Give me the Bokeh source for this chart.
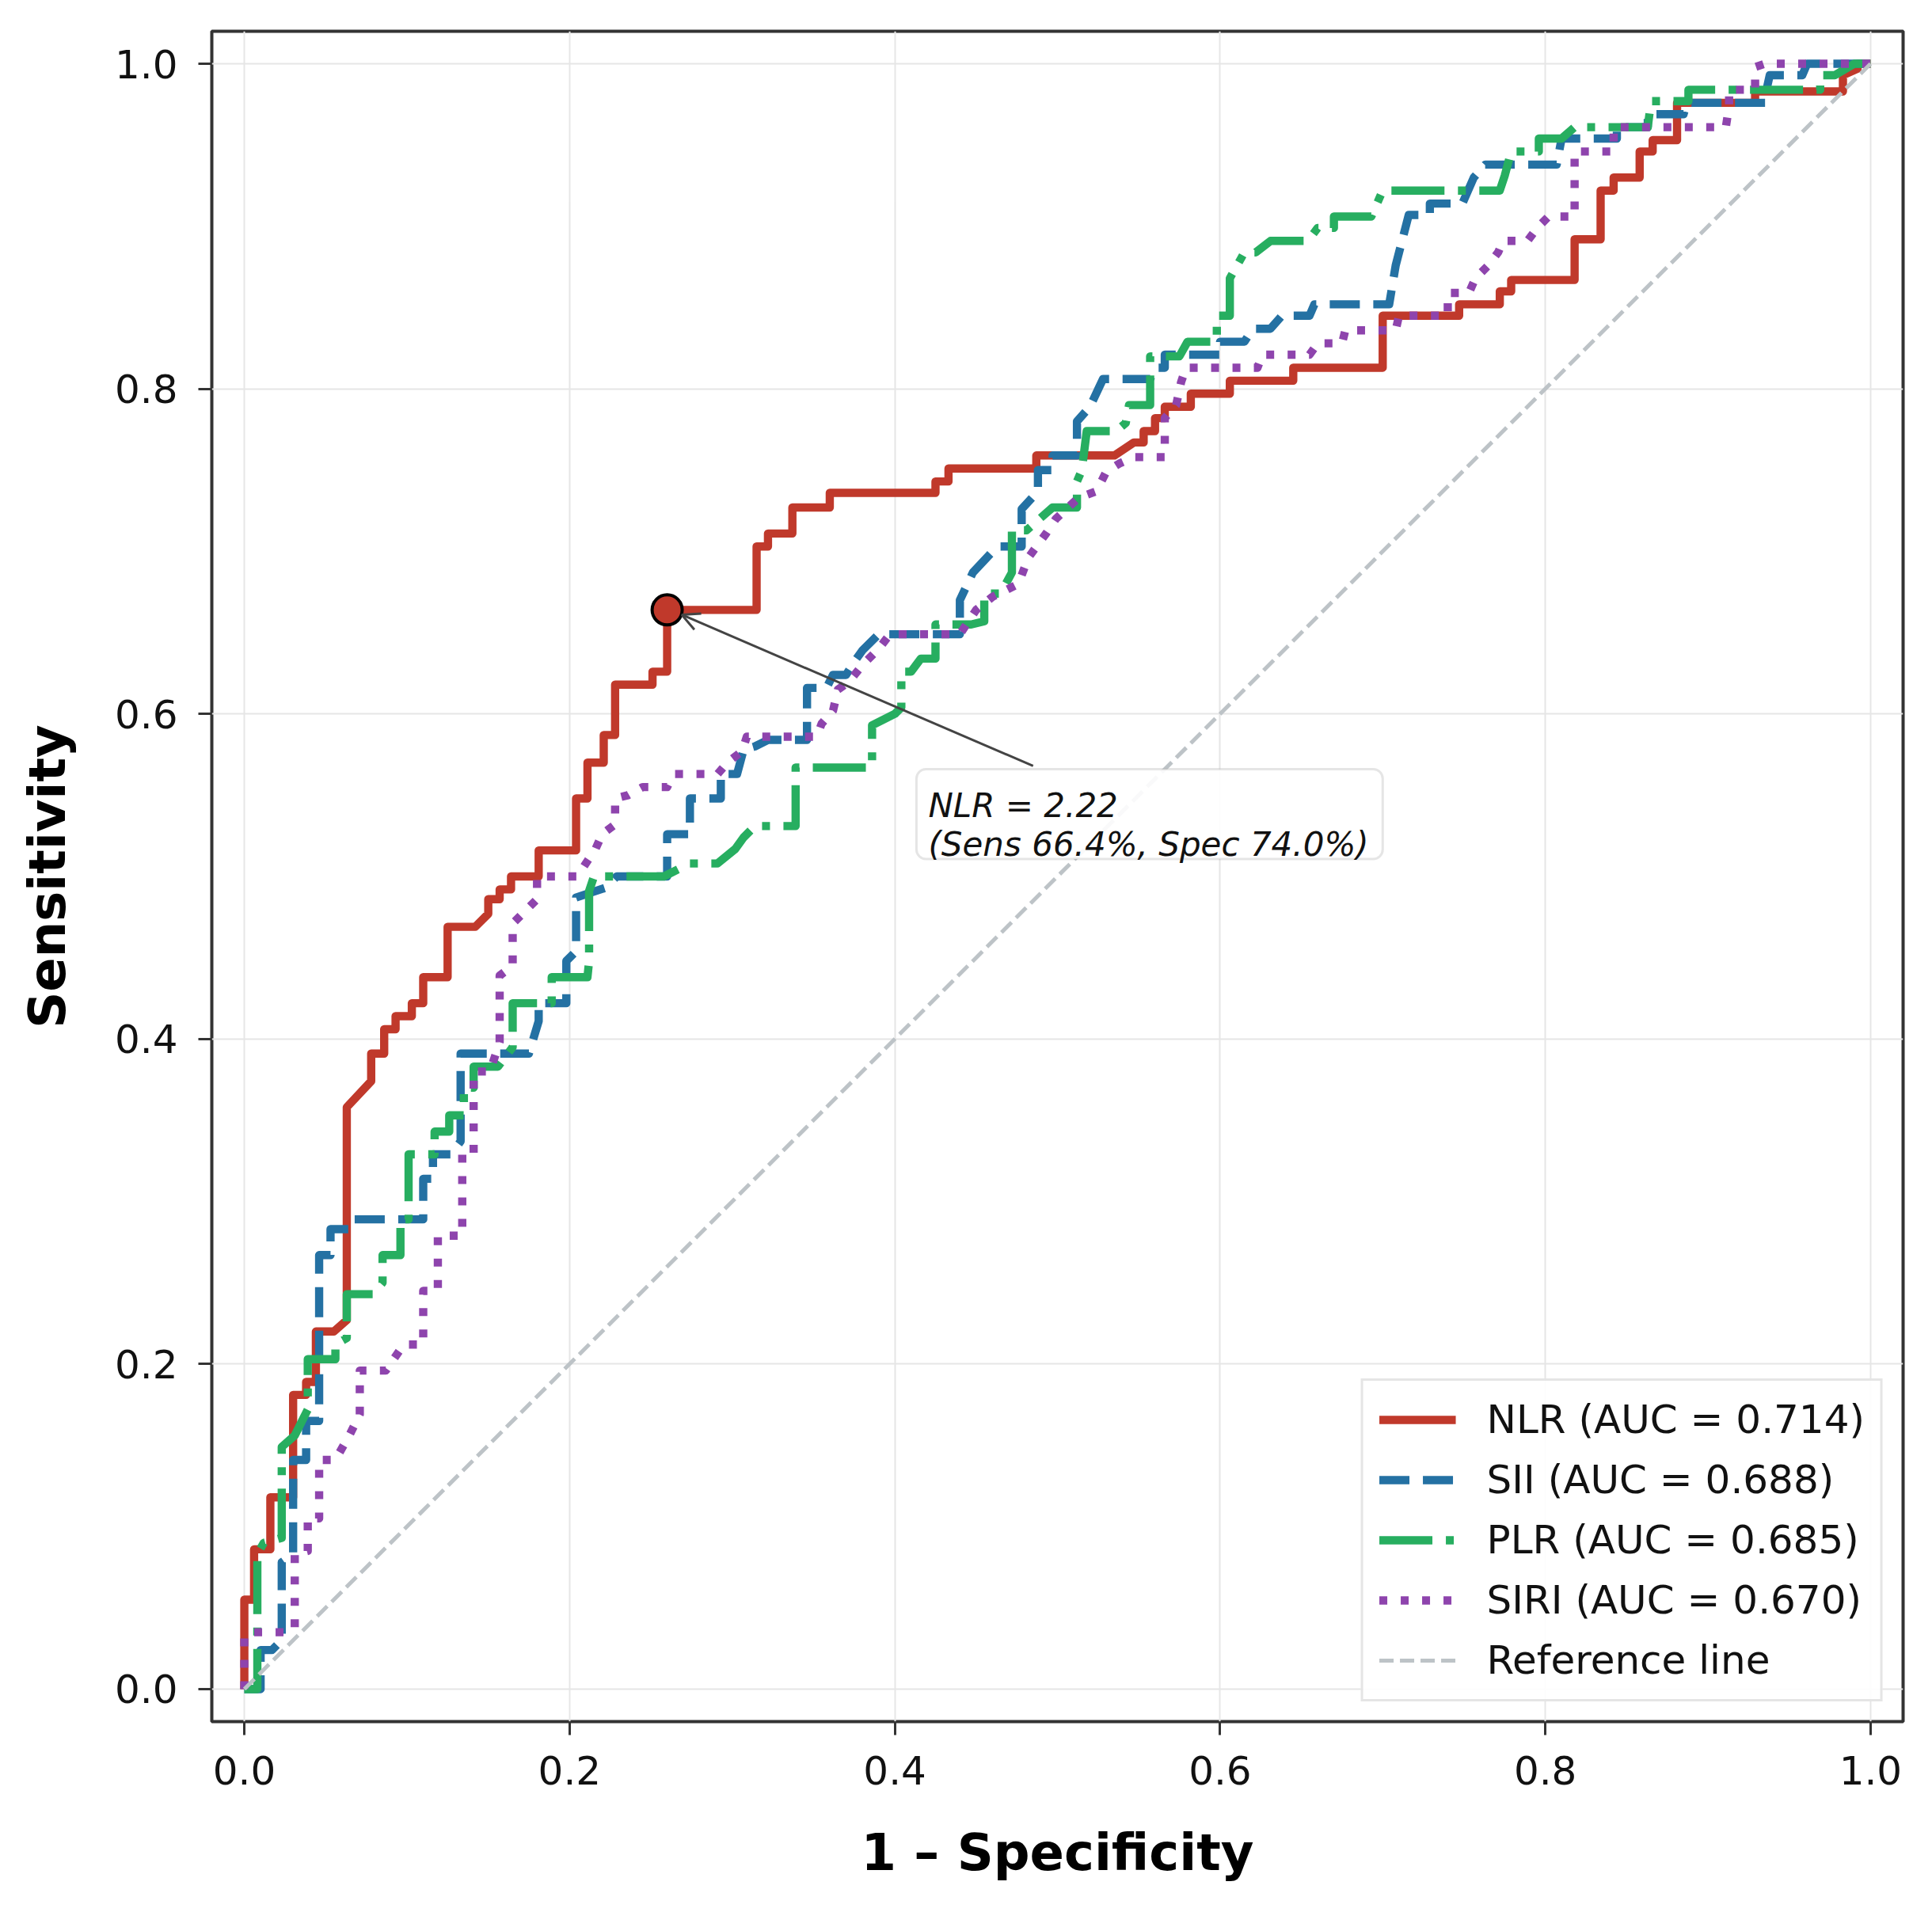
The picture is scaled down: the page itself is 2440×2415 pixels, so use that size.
from bokeh.plotting import figure
from bokeh.models import Range1d, FixedTicker, PrintfTickFormatter, Label, Arrow, OpenHead, BoxAnnotation
from bokeh.embed import file_html
from bokeh.resources import INLINE

# ---------------- data ----------------
names = ["NLR", "SII", "PLR", "SIRI"]
auc = [0.714, 0.688, 0.685, 0.670]

nlr_fpr = [0, 0, 0.006, 0.006, 0.016, 0.016, 0.030, 0.030, 0.038, 0.038, 0.044, 0.044, 0.055, 0.063,
           0.063, 0.078, 0.078, 0.086, 0.086, 0.093, 0.093, 0.103, 0.103, 0.110, 0.110, 0.125, 0.125,
           0.142, 0.150, 0.150, 0.157, 0.157, 0.164, 0.164, 0.181, 0.181, 0.204, 0.204, 0.211, 0.211,
           0.221, 0.221, 0.228, 0.228, 0.251, 0.251, 0.260, 0.260, 0.315, 0.315, 0.322, 0.322, 0.337,
           0.337, 0.360, 0.360, 0.425, 0.425, 0.433, 0.433, 0.487, 0.487, 0.535, 0.547, 0.553, 0.553,
           0.560, 0.560, 0.566, 0.566, 0.582, 0.582, 0.606, 0.606, 0.645, 0.645, 0.700, 0.700, 0.747,
           0.747, 0.772, 0.772, 0.779, 0.779, 0.818, 0.818, 0.834, 0.834, 0.842, 0.842, 0.858, 0.858,
           0.866, 0.866, 0.881, 0.881, 0.929, 0.929, 0.983, 0.983, 0.992, 0.992, 1.0]
nlr_tpr = [0, 0.055, 0.055, 0.086, 0.086, 0.118, 0.118, 0.181, 0.181, 0.189, 0.189, 0.220, 0.220, 0.227,
           0.358, 0.374, 0.391, 0.391, 0.406, 0.406, 0.414, 0.414, 0.422, 0.422, 0.438, 0.438, 0.469,
           0.469, 0.477, 0.486, 0.486, 0.492, 0.492, 0.500, 0.500, 0.516, 0.516, 0.548, 0.548, 0.570,
           0.570, 0.587, 0.587, 0.618, 0.618, 0.626, 0.626, 0.664, 0.664, 0.703, 0.703, 0.711, 0.711,
           0.727, 0.727, 0.736, 0.736, 0.743, 0.743, 0.751, 0.751, 0.759, 0.759, 0.767, 0.767, 0.774,
           0.774, 0.782, 0.782, 0.789, 0.789, 0.797, 0.797, 0.805, 0.805, 0.813, 0.813, 0.845, 0.845,
           0.852, 0.852, 0.860, 0.860, 0.867, 0.867, 0.892, 0.892, 0.922, 0.922, 0.930, 0.930, 0.946,
           0.946, 0.953, 0.953, 0.976, 0.976, 0.983, 0.983, 0.993, 0.997, 1.0, 1.0]

sii_fpr = [0, 0.010, 0.010, 0.017, 0.023, 0.023, 0.030, 0.030, 0.038, 0.038, 0.046, 0.046, 0.053, 0.053,
           0.064, 0.066, 0.110, 0.110, 0.116, 0.116, 0.127, 0.133, 0.133, 0.175, 0.181, 0.181, 0.198,
           0.198, 0.204, 0.204, 0.222, 0.229, 0.260, 0.260, 0.274, 0.274, 0.293, 0.293, 0.303, 0.307,
           0.314, 0.322, 0.346, 0.346, 0.358, 0.362, 0.370, 0.375, 0.380, 0.390, 0.440, 0.440, 0.448,
           0.463, 0.478, 0.478, 0.488, 0.488, 0.497, 0.497, 0.512, 0.512, 0.520, 0.528, 0.557, 0.560,
           0.566, 0.566, 0.600, 0.600, 0.615, 0.620, 0.631, 0.638, 0.655, 0.658, 0.704, 0.708, 0.716,
           0.729, 0.729, 0.749, 0.756, 0.763, 0.807, 0.810, 0.844, 0.844, 0.863, 0.863, 0.885, 0.887,
           0.936, 0.936, 0.938, 0.958, 0.961, 1.0]
sii_tpr = [0, 0.0, 0.024, 0.024, 0.030, 0.078, 0.083, 0.141, 0.141, 0.165, 0.165, 0.267, 0.267, 0.283,
           0.283, 0.289, 0.289, 0.314, 0.314, 0.329, 0.329, 0.337, 0.391, 0.391, 0.411, 0.422, 0.422,
           0.448, 0.454, 0.487, 0.493, 0.500, 0.500, 0.526, 0.526, 0.548, 0.548, 0.563, 0.563, 0.578,
           0.580, 0.584, 0.584, 0.616, 0.616, 0.624, 0.624, 0.632, 0.639, 0.649, 0.649, 0.670, 0.687,
           0.703, 0.703, 0.726, 0.737, 0.750, 0.750, 0.759, 0.759, 0.780, 0.789, 0.806, 0.806, 0.813,
           0.813, 0.821, 0.821, 0.829, 0.829, 0.837, 0.837, 0.845, 0.845, 0.852, 0.852, 0.876, 0.907,
           0.907, 0.914, 0.914, 0.930, 0.938, 0.938, 0.954, 0.954, 0.961, 0.961, 0.969, 0.969, 0.976,
           0.976, 0.984, 0.993, 0.993, 1.0, 1.0]

plr_fpr = [0, 0.008, 0.008, 0.012, 0.023, 0.023, 0.031, 0.039, 0.039, 0.056, 0.056, 0.063, 0.063, 0.079,
           0.085, 0.085, 0.096, 0.096, 0.101, 0.101, 0.117, 0.117, 0.126, 0.126, 0.135, 0.135, 0.141,
           0.141, 0.156, 0.165, 0.165, 0.189, 0.189, 0.211, 0.212, 0.212, 0.215, 0.258, 0.274, 0.291,
           0.302, 0.307, 0.314, 0.339, 0.339, 0.386, 0.386, 0.400, 0.404, 0.404, 0.410, 0.416, 0.425,
           0.425, 0.447, 0.455, 0.455, 0.465, 0.472, 0.472, 0.481, 0.497, 0.512, 0.512, 0.515, 0.518,
           0.536, 0.542, 0.544, 0.557, 0.557, 0.575, 0.580, 0.598, 0.598, 0.606, 0.606, 0.615, 0.622,
           0.631, 0.654, 0.660, 0.670, 0.670, 0.693, 0.700, 0.772, 0.775, 0.779, 0.796, 0.796, 0.810,
           0.818, 0.863, 0.865, 0.888, 0.888, 0.969, 0.969, 0.978, 0.990, 1.0]
plr_tpr = [0, 0.0, 0.083, 0.090, 0.093, 0.149, 0.156, 0.172, 0.203, 0.203, 0.212, 0.216, 0.243, 0.243,
           0.250, 0.267, 0.267, 0.289, 0.289, 0.329, 0.329, 0.343, 0.343, 0.353, 0.353, 0.370, 0.370,
           0.383, 0.383, 0.395, 0.422, 0.422, 0.438, 0.438, 0.448, 0.491, 0.500, 0.500, 0.508, 0.508,
           0.517, 0.524, 0.531, 0.531, 0.567, 0.567, 0.593, 0.600, 0.604, 0.626, 0.626, 0.634, 0.634,
           0.655, 0.655, 0.657, 0.674, 0.674, 0.687, 0.713, 0.713, 0.727, 0.727, 0.743, 0.750, 0.774,
           0.774, 0.779, 0.790, 0.790, 0.820, 0.820, 0.829, 0.829, 0.845, 0.845, 0.868, 0.884, 0.884,
           0.891, 0.891, 0.899, 0.899, 0.906, 0.906, 0.922, 0.922, 0.931, 0.946, 0.946, 0.954, 0.954,
           0.961, 0.961, 0.977, 0.977, 0.984, 0.984, 0.993, 0.993, 1.0, 1.0]

siri_fpr = [0, 0, 0.005, 0.028, 0.031, 0.031, 0.039, 0.039, 0.046, 0.046, 0.056, 0.065, 0.071, 0.071,
            0.087, 0.098, 0.110, 0.110, 0.119, 0.119, 0.134, 0.134, 0.141, 0.141, 0.151, 0.157, 0.157,
            0.165, 0.165, 0.172, 0.180, 0.180, 0.205, 0.210, 0.216, 0.220, 0.228, 0.228, 0.236, 0.245,
            0.260, 0.264, 0.291, 0.297, 0.306, 0.309, 0.352, 0.355, 0.362, 0.365, 0.372, 0.380, 0.390,
            0.397, 0.440, 0.450, 0.460, 0.476, 0.482, 0.493, 0.499, 0.513, 0.524, 0.530, 0.538, 0.547,
            0.566, 0.566, 0.573, 0.576, 0.579, 0.623, 0.626, 0.655, 0.660, 0.675, 0.677, 0.708, 0.710,
            0.740, 0.740, 0.753, 0.757, 0.765, 0.771, 0.774, 0.789, 0.795, 0.802, 0.818, 0.818, 0.842,
            0.842, 0.911, 0.913, 0.913, 0.929, 0.929, 0.935, 1.0]
siri_tpr = [0, 0.033, 0.035, 0.035, 0.038, 0.083, 0.085, 0.105, 0.105, 0.141, 0.141, 0.157, 0.169, 0.196,
            0.196, 0.212, 0.212, 0.245, 0.245, 0.279, 0.279, 0.330, 0.330, 0.380, 0.380, 0.398, 0.439,
            0.445, 0.471, 0.478, 0.486, 0.500, 0.500, 0.508, 0.517, 0.526, 0.532, 0.548, 0.550, 0.555,
            0.555, 0.563, 0.563, 0.570, 0.577, 0.586, 0.586, 0.594, 0.602, 0.615, 0.620, 0.630, 0.640,
            0.649, 0.649, 0.664, 0.672, 0.680, 0.696, 0.711, 0.720, 0.733, 0.737, 0.749, 0.754, 0.758,
            0.758, 0.782, 0.790, 0.804, 0.813, 0.813, 0.821, 0.821, 0.828, 0.828, 0.836, 0.836, 0.845,
            0.845, 0.859, 0.859, 0.868, 0.876, 0.884, 0.891, 0.891, 0.899, 0.906, 0.906, 0.946, 0.946,
            0.961, 0.961, 0.974, 0.984, 0.984, 0.998, 1.0, 1.0]

ref_x = [0, 1]
ref_y = [0, 1]

# optimal cut-off for NLR
cutoff_value = 2.22
cutoff_fpr = 0.260
cutoff_tpr = 0.664
cutoff_sens = 66.4
cutoff_spec = 74.0

ticks = [0.0, 0.2, 0.4, 0.6, 0.8, 1.0]

# ---------------- styling ----------------
colors = ["#c0392b", "#2471a3", "#27ae60", "#8e44ad"]
dashes = ["solid", "38 17", "67 17 10 17", "10 17"]
FONT = "DejaVu Sans"

p = figure(frame_width=2136, frame_height=2135,
           x_range=Range1d(-0.02, 1.02), y_range=Range1d(-0.02, 1.02),
           output_backend="svg", toolbar_location=None,
           min_border_left=267, min_border_right=21, min_border_top=39, min_border_bottom=225)

p.background_fill_color = "white"
p.border_fill_color = "white"
p.outline_line_color = "#333333"
p.outline_line_width = 4

p.grid.grid_line_color = "#e6e6e6"
p.grid.grid_line_width = 2
for ax in (p.xaxis, p.yaxis):
    ax.ticker = FixedTicker(ticks=ticks)
    ax.formatter = PrintfTickFormatter(format="%.1f")
p.xgrid.ticker = FixedTicker(ticks=ticks)
p.ygrid.ticker = FixedTicker(ticks=ticks)

p.axis.axis_line_color = None
p.axis.major_tick_line_color = "#333333"
p.axis.major_tick_line_width = 3
p.axis.major_tick_out = 17
p.axis.major_tick_in = 0
p.axis.minor_tick_line_color = None
p.axis.major_label_text_font = FONT
p.axis.major_label_text_font_size = "50px"
p.axis.major_label_text_color = "#111111"
p.xaxis.major_label_standoff = 26
p.yaxis.major_label_standoff = 26

p.xaxis.axis_label = "1 \u2013 Specificity"
p.yaxis.axis_label = "Sensitivity"
p.axis.axis_label_text_font = FONT
p.axis.axis_label_text_font_size = "64px"
p.axis.axis_label_text_font_style = "bold"
p.axis.axis_label_text_color = "#000000"
p.xaxis.axis_label_standoff = 46
p.yaxis.axis_label_standoff = 45

series = [(nlr_fpr, nlr_tpr), (sii_fpr, sii_tpr), (plr_fpr, plr_tpr), (siri_fpr, siri_tpr)]
for (fx, ty), name, a, c, d in zip(series, names, auc, colors, dashes):
    p.line(fx, ty, line_color=c, line_width=10.4, line_dash=d, line_join="round",
           legend_label=f"{name} (AUC = {a:.3f})")

p.line(ref_x, ref_y, line_color="#bdc3c7", line_width=5, line_dash="18 8",
       legend_label="Reference line")

p.scatter([cutoff_fpr], [cutoff_tpr], size=38, fill_color=colors[0], line_color="black", line_width=4)

# annotation
box = BoxAnnotation(left=0.4133, right=0.700, bottom=0.5107, top=0.566,
                    fill_color="white", fill_alpha=0.9, line_color="#aaaaaa", line_width=3,
                    border_radius=12)
p.add_layout(box)
arrow = Arrow(end=OpenHead(size=22, line_color="#444444", line_width=3),
              x_start=0.485, y_start=0.568, x_end=cutoff_fpr + 0.009, y_end=cutoff_tpr - 0.003,
              line_color="#444444", line_width=3)
p.add_layout(arrow)
p.add_layout(Label(x=0.4206, y=0.5438, text=f"NLR = {cutoff_value:.2f}", text_font=FONT,
                   text_font_style="italic", text_font_size="42px", text_baseline="alphabetic",
                   text_color="#111111"))
p.add_layout(Label(x=0.4206, y=0.5195, text=f"(Sens {cutoff_sens:.1f}%, Spec {cutoff_spec:.1f}%)",
                   text_font=FONT, text_font_style="italic", text_font_size="42px",
                   text_baseline="alphabetic", text_color="#111111"))

lg = p.legend[0]
lg.location = "bottom_right"
lg.margin = 25
lg.border_line_color = "#cccccc"
lg.border_line_width = 3
lg.background_fill_color = "white"
lg.background_fill_alpha = 0.9
lg.label_text_font = FONT
lg.label_text_font_size = "50px"
lg.label_text_color = "#111111"
lg.glyph_width = 97
lg.glyph_height = 50
lg.label_standoff = 39
lg.spacing = 18
lg.padding = 20

open("out.html", "w").write(file_html(p, INLINE))
